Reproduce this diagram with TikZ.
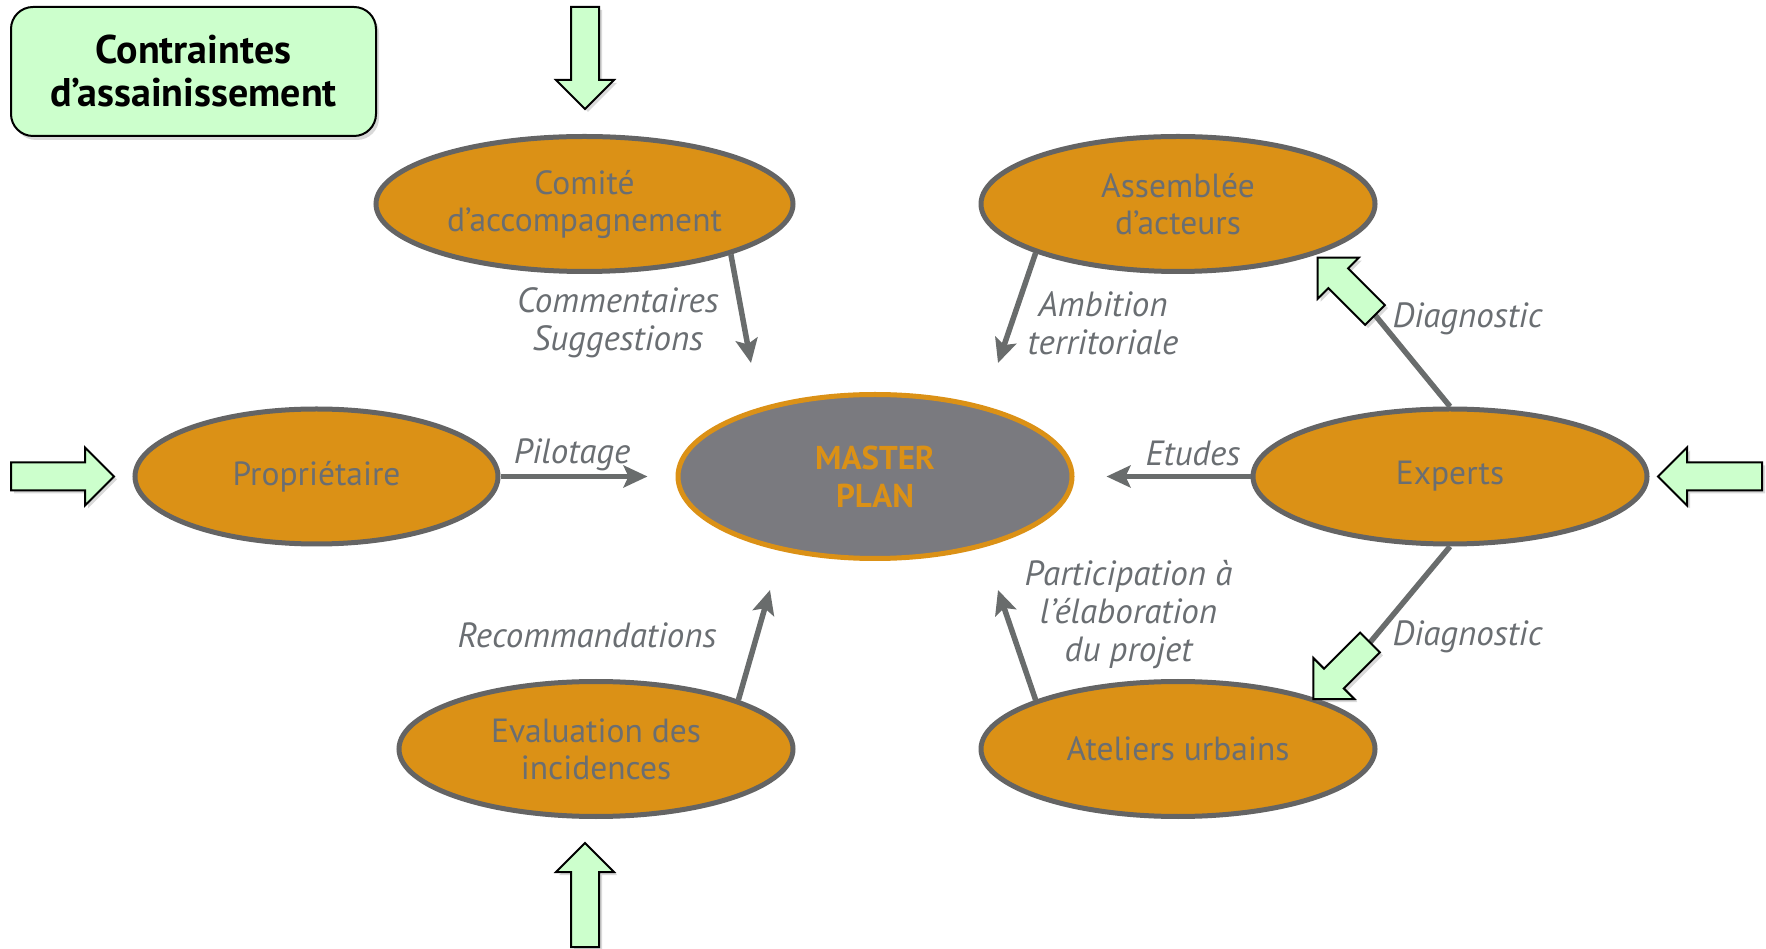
\documentclass[tikz,border=0pt]{standalone}
\usepackage{fontspec}
\setmainfont{PT Sans}
\usetikzlibrary{shapes.geometric,arrows.meta,shadows}

\definecolor{ochre}{RGB}{219,145,22}
\definecolor{rimgray}{RGB}{100,100,100}
\definecolor{textgray}{RGB}{106,110,114}
\definecolor{plangray}{RGB}{122,122,127}
\definecolor{mint}{RGB}{204,255,204}
\definecolor{linkgray}{RGB}{105,108,108}

\tikzset{
		actor/.style={
			ellipse,fill=ochre,draw=rimgray,line width=5pt,inner sep=0pt,
			minimum width=394pt,minimum height=135pt,text=textgray,align=center,
			font=\fontsize{33.5}{37}\selectfont
		},
		master/.style={
			ellipse,fill=plangray,draw=ochre,line width=5pt,inner sep=0pt,
			minimum width=394pt,minimum height=164pt,text=ochre,align=center,
			font=\fontsize{33}{38}\selectfont\bfseries
		},
		constraint/.style={
			rectangle,rounded corners=22pt,fill=mint,draw=black,line width=2pt,
			minimum width=365pt,minimum height=129pt,align=center,
			font=\fontsize{40}{43}\selectfont\bfseries,
			drop shadow={shadow xshift=3pt,shadow yshift=-4pt,opacity=.3}
		},
		note/.style={text=textgray,align=center,font=\fontsize{35}{38}\selectfont\itshape},
		flowarrow/.style={draw=linkgray,line width=5.5pt,-{Stealth[length=24pt,width=22pt,inset=5pt]}},
		feedline/.style={draw=linkgray,line width=5.5pt},
		pics/blockarrow/.style={code={
			\draw[fill=mint,draw=black,line width=2pt,line join=miter,
				drop shadow={shadow xshift=3pt,shadow yshift=-3pt,opacity=.3}]
				(0,-14) -- ({#1-29},-14) -- ({#1-29},-29) -- (#1,0)
				-- ({#1-29},29) -- ({#1-29},14) -- (0,14) -- cycle;
		}}
	}

\begin{document}
\begin{tikzpicture}[x=1pt,y=1pt]
	\useasboundingbox (0,0) rectangle (1766,948);

	\node[constraint] (contraintes) at (193.5,876.5) {Contraintes\\d’assainissement};

	\node[actor,minimum width=417pt] (comite) at (584.5,744) {Comité\\d’accompagnement};
	\node[actor] (assemblee) at (1178,744) {Assemblée\\d’acteurs};
	\node[actor,minimum width=363pt] (proprietaire) at (316.5,471.5) {Propriétaire};
	\node[master] (plan) at (875,471.5) {MASTER\\PLAN};
	\node[actor] (experts) at (1450,471.5) {Experts};
	\node[actor] (evaluation) at (596,199) {Evaluation des\\incidences};
	\node[actor] (ateliers) at (1178,199) {Ateliers urbains};

	% free ends of the arrows towards the master plan
	\coordinate (to-comite) at (751,585);
	\coordinate (to-assemblee) at (998,585);
	\coordinate (to-evaluation) at (770,358);
	\coordinate (to-ateliers) at (998,358);
	\coordinate (diag-up) at (1375,633);
	\coordinate (diag-down) at (1370,305.5);

	\draw[flowarrow] (comite.-19) -- (to-comite);
	\draw[flowarrow] (assemblee.199) -- (to-assemblee);
	\draw[flowarrow] (evaluation.19) -- (to-evaluation);
	\draw[flowarrow] (ateliers.161) -- (to-ateliers);
	\draw[flowarrow,shorten >=28pt] (proprietaire) -- (plan);
	\draw[flowarrow,shorten >=32pt] (experts) -- (plan);
	\draw[feedline] (experts.north) -- (diag-up);
	\draw[feedline] (experts.south) -- (diag-down);

	\pic[rotate=135] at (diag-up) {blockarrow=81};
	\pic[rotate=225] at (diag-down) {blockarrow=80};
	\pic[rotate=-90] at (585,941) {blockarrow=102};
	\pic[rotate=90] at (585,1) {blockarrow=104};
	\pic at (11,471.5) {blockarrow=103};
	\pic[rotate=180] at (1762,471.5) {blockarrow=104};

	\node[note] (commentaires) at (618,625) {Commentaires\\Suggestions};
	\node[note] (ambition) at (1103,625) {Ambition\\territoriale};
	\node[note] (pilotage) at (572,493) {Pilotage};
	\node[note] (etudes) at (1193,495) {Etudes};
	\node[note] (recommandations) at (587,313) {Recommandations};
	\node[note] (participation) at (1128.5,333) {Participation à\\l’élaboration\\du projet};
	\node[note] (diagnostic-a) at (1467.5,629) {Diagnostic};
	\node[note] (diagnostic-b) at (1467.5,311) {Diagnostic};
\end{tikzpicture}
\end{document}
